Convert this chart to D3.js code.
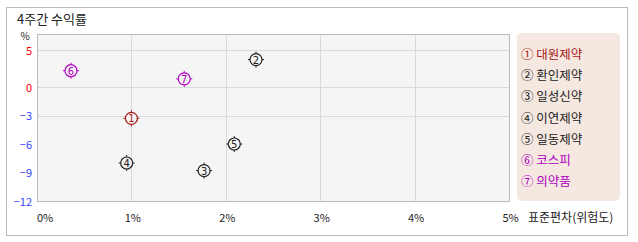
<!DOCTYPE html>
<html>
<head>
<meta charset="utf-8">
<script src="https://cdn.jsdelivr.net/npm/d3@7"></script>
<style>
  body { margin: 0; background: #fff; }
  svg { display: block; font-family: "Noto Sans CJK KR", "DejaVu Sans", sans-serif; }
</style>
</head>
<body>
<svg id="chart" width="638" height="242"></svg>
<script>
// data
var names = ["대원제약", "환인제약", "일성신약", "이연제약", "일동제약", "코스피", "의약품"];
var marks = ["①", "②", "③", "④", "⑤", "⑥", "⑦"];
var riskValues = [1.00, 2.32, 1.77, 0.95, 2.09, 0.36, 1.56];   // 표준편차 %
var returnValues = [-3.3, 3.7, -8.8, -8.0, -6.0, 2.2, 1.1];     // 4주간 수익률 %
var xTicks = [0, 1, 2, 3, 4, 5];
var yTicks = [5, 0, -3, -6, -9, -12];
var yGrid = [5, 0, -3];

var colors = ["#a81818", "#222", "#222", "#222", "#222", "#b000c0", "#b000c0"];

var svg = d3.select("#chart");

// 바깥 테두리
svg.append("rect")
    .attr("x", 6.5).attr("y", 7.5)
    .attr("width", 621).attr("height", 228)
    .attr("fill", "#fff").attr("stroke", "#bbb");

svg.append("text")
    .attr("x", 17).attr("y", 24)
    .attr("font-size", 13).attr("fill", "#222")
    .text("4주간 수익률");

var pLeft = 37, pRight = 509, pTop = 34, pBottom = 201;

var x = d3.scaleLinear().domain([0, 5]).range([pLeft, pRight]);
// 양수 구간과 음수 구간 간격이 다름
var y = d3.scaleLinear().domain([-12, 0, 5, 7.2]).range([pBottom, 87, 50, pTop]);

svg.append("rect")
    .attr("x", pLeft + 0.5).attr("y", pTop + 0.5)
    .attr("width", pRight - pLeft).attr("height", pBottom - pTop)
    .attr("fill", "#f5f5f5").attr("stroke", "#bbb");

var grid = svg.append("g").attr("stroke", "#d9d9d9");
grid.selectAll("line.v")
    .data(xTicks.filter(d => d > 0 && d < 5))
    .enter().append("line")
    .attr("x1", d => Math.round(x(d)) + 0.5).attr("x2", d => Math.round(x(d)) + 0.5)
    .attr("y1", pTop + 1).attr("y2", pBottom);
grid.selectAll("line.h")
    .data(yGrid)
    .enter().append("line")
    .attr("x1", pLeft + 1).attr("x2", pRight)
    .attr("y1", d => Math.round(y(d)) + 0.5).attr("y2", d => Math.round(y(d)) + 0.5);

// y 축 라벨
svg.append("text")
    .attr("x", 25).attr("y", 40)
    .attr("text-anchor", "middle").attr("font-size", 10).attr("fill", "#222")
    .text("%");
svg.selectAll("text.ytick")
    .data(yTicks)
    .enter().append("text")
    .attr("x", 32).attr("y", d => y(d) + 4.5)
    .attr("text-anchor", "end").attr("font-size", 11)
    .attr("fill", d => d >= 0 ? "#ff0000" : "#3344ff")
    .text(d => d < 0 ? "\u2212" + Math.abs(d) : d);

// x 축 라벨
svg.selectAll("text.xtick")
    .data(xTicks)
    .enter().append("text")
    .attr("x", d => d === 0 ? pLeft : x(d) + 1.5)
    .attr("y", 222)
    .attr("text-anchor", d => d === 0 ? "start" : "middle")
    .attr("font-size", 11).attr("fill", "#222")
    .text(d => d + "%");

svg.append("text")
    .attr("x", 528).attr("y", 222)
    .attr("font-size", 12).attr("fill", "#222")
    .text("표준편차(위험도)");

// 점
var pts = svg.selectAll("g.pt")
    .data(names.map((n, i) => ({ i: i, x: riskValues[i], y: returnValues[i] })))
    .enter().append("g")
    .attr("transform", d => `translate(${x(d.x)},${y(d.y)})`);

pts.selectAll("line")
    .data(d => [[0, -5, 0, -8], [0, 5, 0, 8], [-5, 0, -8, 0], [5, 0, 8, 0]].map(a => ({ a: a, c: colors[d.i] })))
    .enter().append("line")
    .attr("x1", e => e.a[0]).attr("y1", e => e.a[1])
    .attr("x2", e => e.a[2]).attr("y2", e => e.a[3])
    .attr("stroke", e => e.c);
pts.append("circle")
    .attr("r", 6)
    .attr("fill", "#f5f5f5")
    .attr("stroke", d => colors[d.i]).attr("stroke-width", 1.2);
pts.append("text")
    .attr("y", 4)
    .attr("text-anchor", "middle").attr("font-size", 10)
    .attr("font-family", "DejaVu Sans")
    .attr("fill", d => colors[d.i])
    .text(d => d.i + 1);

// 범례
svg.append("rect")
    .attr("x", 517).attr("y", 33)
    .attr("width", 103).attr("height", 168)
    .attr("rx", 5)
    .attr("fill", "#f5e8e0");

svg.selectAll("text.legend")
    .data(names)
    .enter().append("text")
    .attr("x", 521)
    .attr("y", (d, i) => 59 + i * 21.2)
    .attr("font-size", 12.5)
    .attr("fill", (d, i) => colors[i])
    .text((d, i) => marks[i] + " " + d);
</script>
</body>
</html>
